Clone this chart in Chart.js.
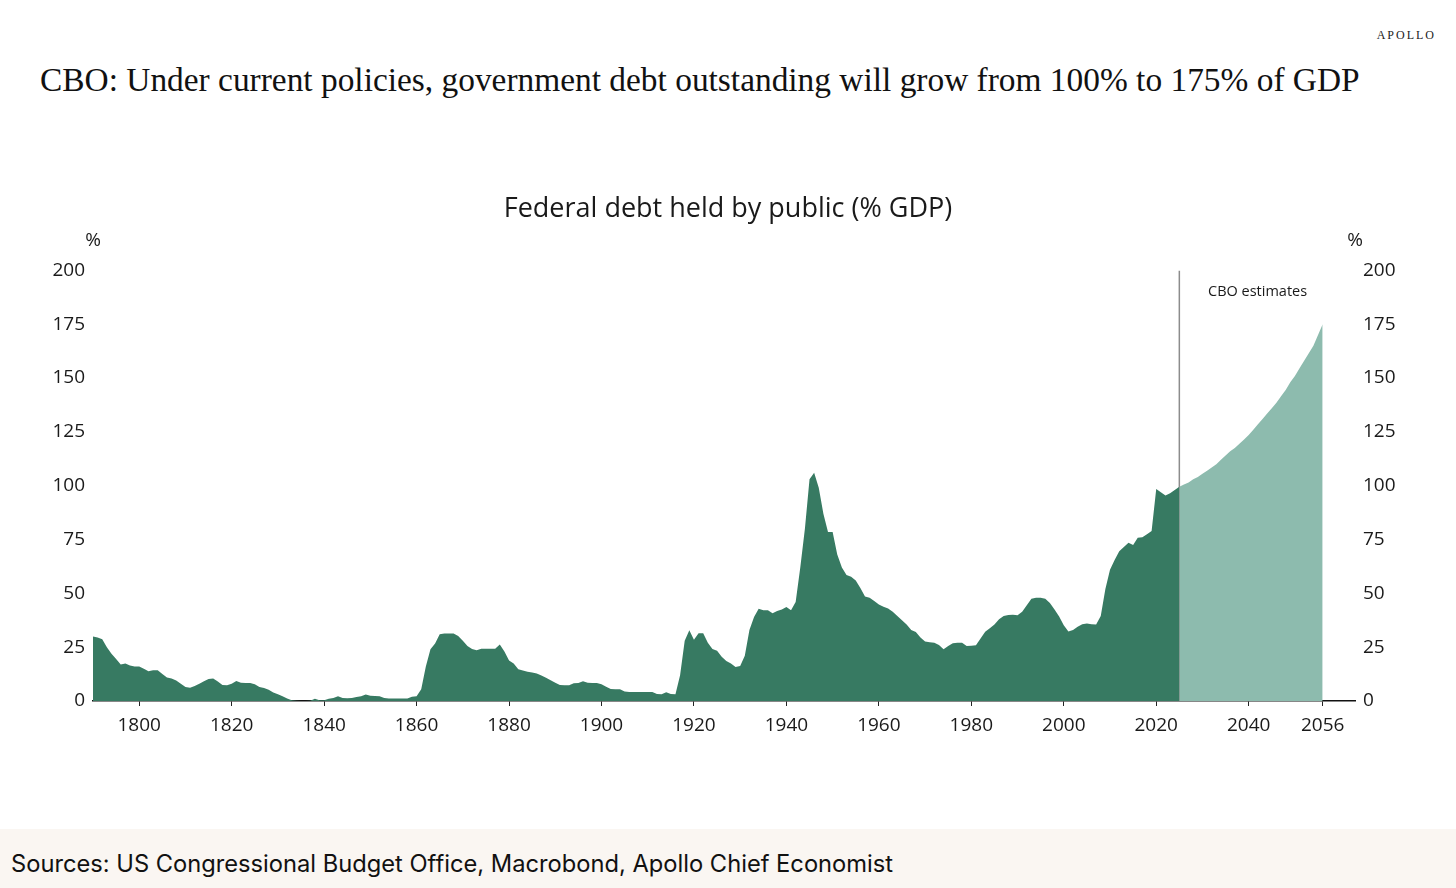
<!DOCTYPE html>
<html>
<head>
<meta charset="utf-8">
<script src="https://cdn.jsdelivr.net/npm/chart.js@4.4.1/dist/chart.umd.min.js"></script>
<style>
  html, body { margin: 0; padding: 0; background: #fff; }
  body { width: 1456px; height: 888px; position: relative; overflow: hidden; }
  #brand { position: absolute; right: 20px; top: 28px; font-family: "Liberation Serif", serif; font-size: 12px; letter-spacing: 2px; color: #222; }
  #headline { position: absolute; left: 40px; top: 61px; font-family: "Liberation Serif", serif; font-size: 33.4px; color: #111; white-space: nowrap; }
  #chartBox { position: absolute; left: 0; top: 170px; width: 1456px; height: 590px; }
  #footer { position: absolute; left: 0; top: 829px; width: 1456px; height: 59px; background: #faf6f2; }
  #footer span { position: absolute; left: 11px; top: 20px; font-family: Inter, "Noto Sans", sans-serif; font-size: 23.7px; color: #111; }
</style>
</head>
<body>
<div id="brand">APOLLO</div>
<div id="headline">CBO: Under current policies, government debt outstanding will grow from 100% to 175% of GDP</div>
<div id="chartBox"><canvas id="debtChart"></canvas></div>
<div id="footer"><span>Sources: US Congressional Budget Office, Macrobond, Apollo Chief Economist</span></div>

<script>
// historical debt held by public, % of GDP, one value per year from 1790
const histStartYear = 1790;
const histDebt = [
  30, 29.5, 28.7, 25, 22, 19.5, 17, 17.4, 16.5, 16,          // 1790s
  16, 15, 13.8, 14.3, 14.3, 12.5, 10.9, 10.5, 9.5, 8,        // 1800s
  6.5, 6.2, 7, 8, 9.2, 10.2, 10.4, 9, 7.4, 7.3,              // 1810s
  8, 9.3, 8.5, 8.4, 8.4, 7.8, 6.5, 6, 5.2, 4,                // 1820s
  3.1, 2.2, 1.2, 0.4, 0.1, 0, 0, 0.1, 1.1, 0.4,              // 1830s
  0.3, 1, 1.4, 2.2, 1.4, 1.3, 1.4, 1.8, 2.2, 3,              // 1840s
  2.4, 2.3, 2.2, 1.4, 1.2, 1.2, 1.2, 1.2, 1.2, 2,            // 1850s
  2.2, 5.5, 16, 24, 26.7, 31, 31.3, 31.3, 31.3, 30.2,        // 1860s
  28, 25.5, 24.2, 23.6, 24.3, 24.3, 24.3, 24.3, 26.2, 23,    // 1870s
  18.8, 17.4, 14.8, 14.2, 13.6, 13.2, 12.8, 11.8, 10.8, 9.6, // 1880s
  8.5, 7.4, 7.3, 7.3, 8.2, 8.4, 9.2, 8.5, 8.4, 8.4,          // 1890s
  7.8, 6.6, 5.6, 5.4, 5.4, 4.4, 4.2, 4.2, 4.2, 4.2,          // 1900s
  4.2, 4.2, 3.3, 3.1, 4.1, 3.2, 3.1, 12, 28, 32.9,           // 1910s
  28.5, 31.5, 31.5, 27, 24.2, 23.3, 20.5, 18.6, 17.4, 15.8,  // 1920s
  16.3, 21, 33, 39, 42.9, 42.1, 42.1, 40.8, 41.8, 42.5,      // 1930s
  43.7, 42.1, 46, 62, 80, 103, 106, 99, 87, 78.5,            // 1940s
  78.5, 68, 62, 58.5, 57.7, 56, 52.5, 48.5, 47.9, 46.5,      // 1950s
  44.8, 43.8, 43, 41.5, 39.5, 37.5, 35.5, 33, 32.1, 29.5,    // 1960s
  27.6, 27.3, 27, 26, 24, 25.5, 26.8, 27, 27, 25.5,          // 1970s
  25.7, 25.9, 29, 32.2, 33.8, 35.5, 38, 39.5, 40, 40.1,      // 1980s
  39.8, 41.5, 44.5, 47.5, 47.9, 47.9, 47.5, 45.5, 42.5, 39.2,// 1990s
  35.2, 32.3, 33, 34.5, 35.7, 36, 35.7, 35.5, 39.5, 52,      // 2000s
  61, 65.5, 69.5, 71.5, 73.5, 72.5, 75.8, 76, 77.5, 79,      // 2010s
  98.5, 97, 95.5, 96.5, 98, 99.5                             // 2020-2025
];

// CBO projection, one value per year from 2025
const projStartYear = 2025;
const projDebt = [
  99.5, 100.5, 101.5, 103, 104, 105.5, 107, 108.5, 110, 112,
  114, 116, 117.5, 119.5, 121.5, 123.5, 126, 128.5, 131, 133.5,
  136, 138.5, 141.5, 144.5, 148, 151, 154.5, 158, 161.5, 165,
  170, 175
];

const estimateStartYear = 2025;
const xTickYears = [1800, 1820, 1840, 1860, 1880, 1900, 1920, 1940, 1960, 1980, 2000, 2020, 2040, 2056];
const yTickStep = 25;
const yMin = 0, yMax = 200;
const xMin = 1790, xMax = 2063;

const chartTitle = 'Federal debt held by public (% GDP)';
const estimateLabel = 'CBO estimates';

const histPoints = histDebt.map((v, i) => ({ x: histStartYear + i, y: v }));
const projPoints = projDebt.map((v, i) => ({ x: projStartYear + i, y: v }));
const markerPoints = [{ x: estimateStartYear, y: yMin }, { x: estimateStartYear, y: yMax }];

const tickFont = { family: '"Open Sans", "Noto Sans", sans-serif', size: 19 };
const textColor = '#1a1a1a';

// "%" above both y axes and the CBO estimates note
const extraText = {
  id: 'extraText',
  afterDraw(chart) {
    const ctx = chart.ctx;
    const area = chart.chartArea;
    const xs = chart.scales.x, ys = chart.scales.y;
    ctx.save();
    ctx.fillStyle = textColor;
    ctx.font = '19px "Open Sans", "Noto Sans", sans-serif';
    ctx.textAlign = 'center';
    ctx.textBaseline = 'middle';
    ctx.fillText('%', area.left, area.top - 30);
    ctx.fillText('%', area.right, area.top - 30);
    ctx.font = '14.5px "Open Sans", "Noto Sans", sans-serif';
    ctx.textAlign = 'left';
    ctx.fillText(estimateLabel, xs.getPixelForValue(2031.2), ys.getPixelForValue(190));
    ctx.restore();
  }
};

new Chart(document.getElementById('debtChart'), {
  type: 'line',
  data: {
    datasets: [
      { data: histPoints, fill: 'origin', backgroundColor: '#377a62', borderWidth: 0, pointRadius: 0, tension: 0, yAxisID: 'y' },
      { data: projPoints, fill: 'origin', backgroundColor: '#8dbbae', borderWidth: 0, pointRadius: 0, tension: 0, yAxisID: 'y' },
      { data: markerPoints, fill: false, borderColor: '#8c8c8c', borderWidth: 1.5, pointRadius: 0, yAxisID: 'y' }
    ]
  },
  options: {
    responsive: true,
    maintainAspectRatio: false,
    animation: false,
    layout: { padding: 0 },
    plugins: {
      legend: { display: false },
      tooltip: { enabled: false },
      title: {
        display: true, text: chartTitle, color: textColor,
        font: { family: '"Open Sans", "Noto Sans", sans-serif', size: 27, weight: 'normal' },
        padding: { top: 23, bottom: 45 }
      }
    },
    scales: {
      x: {
        type: 'linear', min: xMin, max: xMax,
        afterBuildTicks: s => { s.ticks = xTickYears.map(v => ({ value: v })); },
        afterFit: s => { s.height = 59; },
        ticks: { font: tickFont, color: textColor, padding: 8, maxRotation: 0, autoSkip: false, callback: v => String(v) },
        grid: { display: true, drawOnChartArea: false, drawTicks: true, tickLength: 5, color: '#222' },
        border: { display: true, color: '#111', width: 1.5 }
      },
      y: {
        position: 'left', min: yMin, max: yMax,
        afterFit: s => { s.width = 93; },
        ticks: { stepSize: yTickStep, font: tickFont, color: textColor, padding: 8 },
        grid: { display: false, drawTicks: false },
        border: { display: false }
      },
      y2: {
        position: 'right', min: yMin, max: yMax,
        afterFit: s => { s.width = 101; },
        ticks: { stepSize: yTickStep, font: tickFont, color: textColor, padding: 8 },
        grid: { display: false, drawTicks: false },
        border: { display: false }
      }
    }
  },
  plugins: [extraText]
});
</script>
</body>
</html>
